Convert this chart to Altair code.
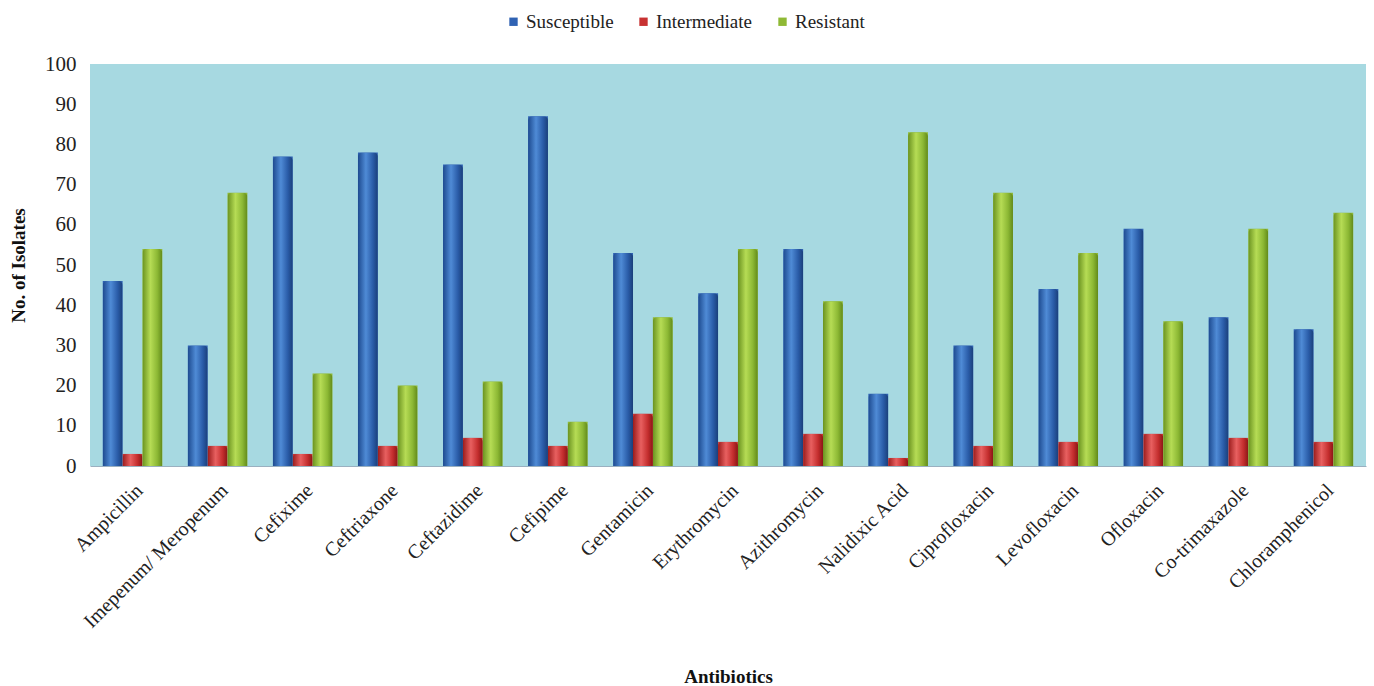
import altair as alt
import pandas as pd

antibiotics = ["Ampicillin", "Imepenum/ Meropenum", "Cefixime", "Ceftriaxone", "Ceftazidime",
               "Cefipime", "Gentamicin", "Erythromycin", "Azithromycin", "Nalidixic Acid",
               "Ciprofloxacin", "Levofloxacin", "Ofloxacin", "Co-trimaxazole", "Chloramphenicol"]
series = ["Susceptible", "Intermediate", "Resistant"]
susceptible = [46, 30, 77, 78, 75, 87, 53, 43, 54, 18, 30, 44, 59, 37, 34]
intermediate = [3, 5, 3, 5, 7, 5, 13, 6, 8, 2, 5, 6, 8, 7, 6]
resistant = [54, 68, 23, 20, 21, 11, 37, 54, 41, 83, 68, 53, 36, 59, 63]
colors = ["#2f62b3", "#c83232", "#8fb935"]

rows = []
for name, vals in zip(series, [susceptible, intermediate, resistant]):
    for a, v in zip(antibiotics, vals):
        rows.append({"Antibiotic": a, "Series": name, "Value": v})
df = pd.DataFrame(rows)

FONT = "Liberation Serif"

x = alt.X("Antibiotic:N", sort=antibiotics,
          scale=alt.Scale(paddingInner=0.3, paddingOuter=0.15),
          axis=alt.Axis(title="Antibiotics", labelAngle=-45, labelFont=FONT, labelFontSize=20,
                        labelColor="#222", titleFont=FONT, titleFontSize=19, titleFontWeight="bold",
                        titleColor="#111", titleY=216, titleBaseline="alphabetic",
                        ticks=False, labelPadding=14, domainColor="#9ab0c0", labelAlign="right",
                        labelBaseline="top", labelLimit=400))
y = alt.Y("Value:Q", scale=alt.Scale(domain=[0, 100]),
          axis=alt.Axis(title="No. of Isolates", values=list(range(0, 101, 10)), grid=False,
                        labelFont=FONT, labelFontSize=21, labelColor="#222", titleFont=FONT,
                        titleFontSize=19, titleFontWeight="bold", titleColor="#111",
                        titlePadding=16, ticks=False, domain=False, labelPadding=14))
xo = alt.XOffset("Series:N", sort=series, scale=alt.Scale(domain=series, paddingInner=0, paddingOuter=0))

base = alt.Chart(df).mark_bar().encode(
    x=x, y=y, xOffset=xo,
    color=alt.Color("Series:N", sort=series, scale=alt.Scale(domain=series, range=colors),
                    legend=alt.Legend(title=None, orient="none", direction="horizontal",
                                      legendX=414, legendY=-52, labelFont=FONT, labelFontSize=19,
                                      labelColor="#222", symbolType="square", symbolSize=70,
                                      columnPadding=20, symbolStrokeWidth=0, labelOffset=3))
)

grads = [
    ["#1d4a8f", "#4f8bd6", "#2a5ca8", "#1a3f7a"],
    ["#9a1c1c", "#e86060", "#c42e2e", "#8a1616"],
    ["#6a9220", "#b6dc55", "#8cb834", "#628a1a"],
]
layers = [base]
for s, g in zip(series, grads):
    grad = alt.LinearGradient(gradient="linear", x1=0, y1=0, x2=1, y2=0,
                              stops=[alt.GradientStop(offset=0, color=g[0]),
                                     alt.GradientStop(offset=0.4, color=g[1]),
                                     alt.GradientStop(offset=0.75, color=g[2]),
                                     alt.GradientStop(offset=1, color=g[3])])
    layers.append(alt.Chart(df).transform_filter(alt.datum.Series == s)
                  .mark_bar(color=grad, cornerRadiusTopLeft=4, cornerRadiusTopRight=4)
                  .encode(x=x, y=y, xOffset=xo))

chart = alt.layer(*layers).properties(
    width=1276, height=402,
    padding={"left": 90, "top": 64, "right": 8, "bottom": 220},
    autosize=alt.AutoSizeParams(type="none"),
    background="white",
).configure(font=FONT).configure_legend(labelFont=FONT).configure_axis(
    labelFont=FONT, titleFont=FONT
).configure_view(fill="#a7d9e1", stroke=None)

chart.save("out.html", embed_options={"renderer": "svg", "actions": False})
